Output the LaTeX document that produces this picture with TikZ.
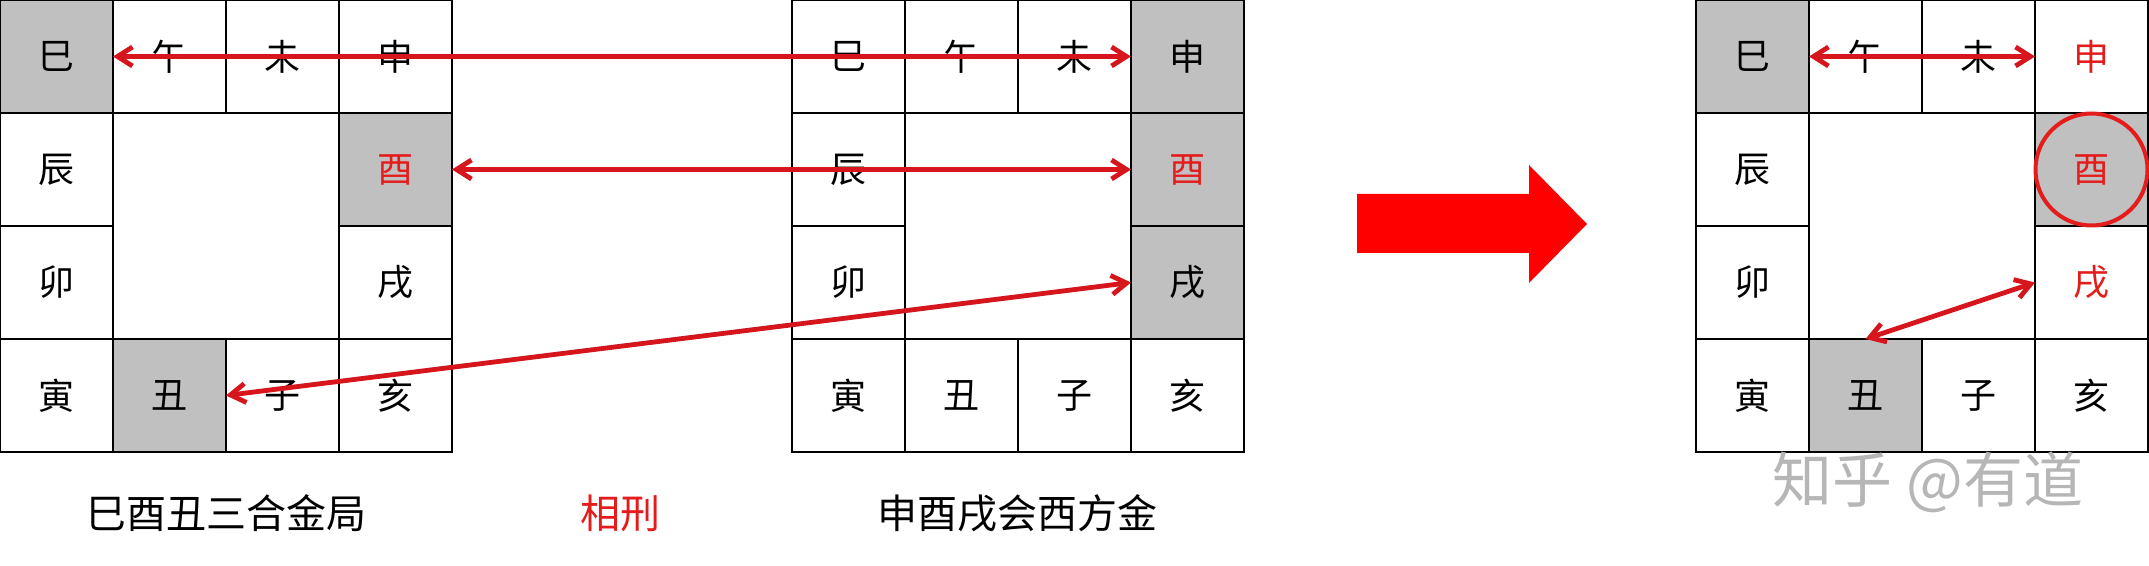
\documentclass[tikz,border=0pt]{standalone}
\usepackage{fontspec}
\newfontfamily\cjk{Noto Sans CJK SC}
\usepackage{tikz}
\usetikzlibrary{arrows.meta}

\definecolor{cellgray}{RGB}{192,192,192}
\definecolor{textred}{RGB}{228,28,28}
\definecolor{linkred}{RGB}{214,22,28}
\definecolor{markgray}{RGB}{182,182,182}

\tikzset{
  cell/.style={draw=black, line width=0.7pt, minimum size=56.5pt, inner sep=0pt, outer sep=0pt, font=\cjk\fontsize{18pt}{18pt}\selectfont},
  shaded/.style={cell, fill=cellgray},
  hot/.style={text=textred},
  link/.style={draw=linkred, line width=2.4pt, {Straight Barb[length=7.5pt,width=9.5pt]}-{Straight Barb[length=7.5pt,width=9.5pt]}},
  caption/.style={font=\cjk\fontsize{20pt}{20pt}\selectfont}
}

\begin{document}
\begin{tikzpicture}[x=0.5pt,y=0.5pt,yscale=-1,xscale=1]
\useasboundingbox (0,0) rectangle (2149,566);

%Grid: left board
\node[cell] (wu1) at (169.5,56.5) {午};
\node[cell] (wei1) at (282.5,56.5) {未};
\node[cell] (shen1) at (395.5,56.5) {申};
\node[cell] (chen1) at (56.5,169.5) {辰};
\node[cell] (mao1) at (56.5,282.5) {卯};
\node[cell] (xu1) at (395.5,282.5) {戌};
\node[cell] (yin1) at (56.5,395.5) {寅};
\node[cell] (zi1) at (282.5,395.5) {子};
\node[cell] (hai1) at (395.5,395.5) {亥};
\node[shaded] (si1) at (56.5,56.5) {巳};
\node[shaded,hot] (you1) at (395.5,169.5) {酉};
\node[shaded] (chou1) at (169.5,395.5) {丑};

%Grid: middle board
\node[cell] (si2) at (848.5,56.5) {巳};
\node[cell] (wu2) at (961.5,56.5) {午};
\node[cell] (wei2) at (1074.5,56.5) {未};
\node[cell] (chen2) at (848.5,169.5) {辰};
\node[cell] (mao2) at (848.5,282.5) {卯};
\node[cell] (yin2) at (848.5,395.5) {寅};
\node[cell] (chou2) at (961.5,395.5) {丑};
\node[cell] (zi2) at (1074.5,395.5) {子};
\node[cell] (hai2) at (1187.5,395.5) {亥};
\node[shaded] (shen2) at (1187.5,56.5) {申};
\node[shaded,hot] (you2) at (1187.5,169.5) {酉};
\node[shaded] (xu2) at (1187.5,282.5) {戌};

%Grid: right board
\node[cell] (wu3) at (1865.5,56.5) {午};
\node[cell] (wei3) at (1978.5,56.5) {未};
\node[cell,hot] (shen3) at (2091.5,56.5) {申};
\node[cell] (chen3) at (1752.5,169.5) {辰};
\node[cell] (mao3) at (1752.5,282.5) {卯};
\node[cell,hot] (xu3) at (2091.5,282.5) {戌};
\node[cell] (yin3) at (1752.5,395.5) {寅};
\node[cell] (zi3) at (1978.5,395.5) {子};
\node[cell] (hai3) at (2091.5,395.5) {亥};
\node[shaded] (si3) at (1752.5,56.5) {巳};
\node[shaded,hot] (you3) at (2091.5,169.5) {酉};
\node[shaded] (chou3) at (1865.5,395.5) {丑};

%Captions
\node[caption] (sanhe) at (226,513) {巳酉丑三合金局};
\node[caption, text=textred] (xiangxing) at (620,513) {相刑};
\node[caption] (fanghui) at (1017.5,513) {申酉戌会西方金};

%Shape: big arrow
\fill[red] (1357,194) -- (1529,194) -- (1529,165) -- (1587,224) -- (1529,283) -- (1529,253) -- (1357,253) -- cycle;

%Links
\draw[link] (si1.east) -- (shen2.west);
\draw[link] (you1.east) -- (you2.west);
\draw[link] (chou1.east) -- (xu2.west);
\draw[link] (si3.east) -- (shen3.west);
\draw[link] (xu3.west) -- (chou3.north);
\draw[draw=textred, line width=2pt] (you3.center) circle [radius=56];

%Watermark
\node[font=\cjk\fontsize{30pt}{30pt}\selectfont, text=markgray] (mark) at (1928,482) {知乎 @有道};

\end{tikzpicture}
\end{document}
